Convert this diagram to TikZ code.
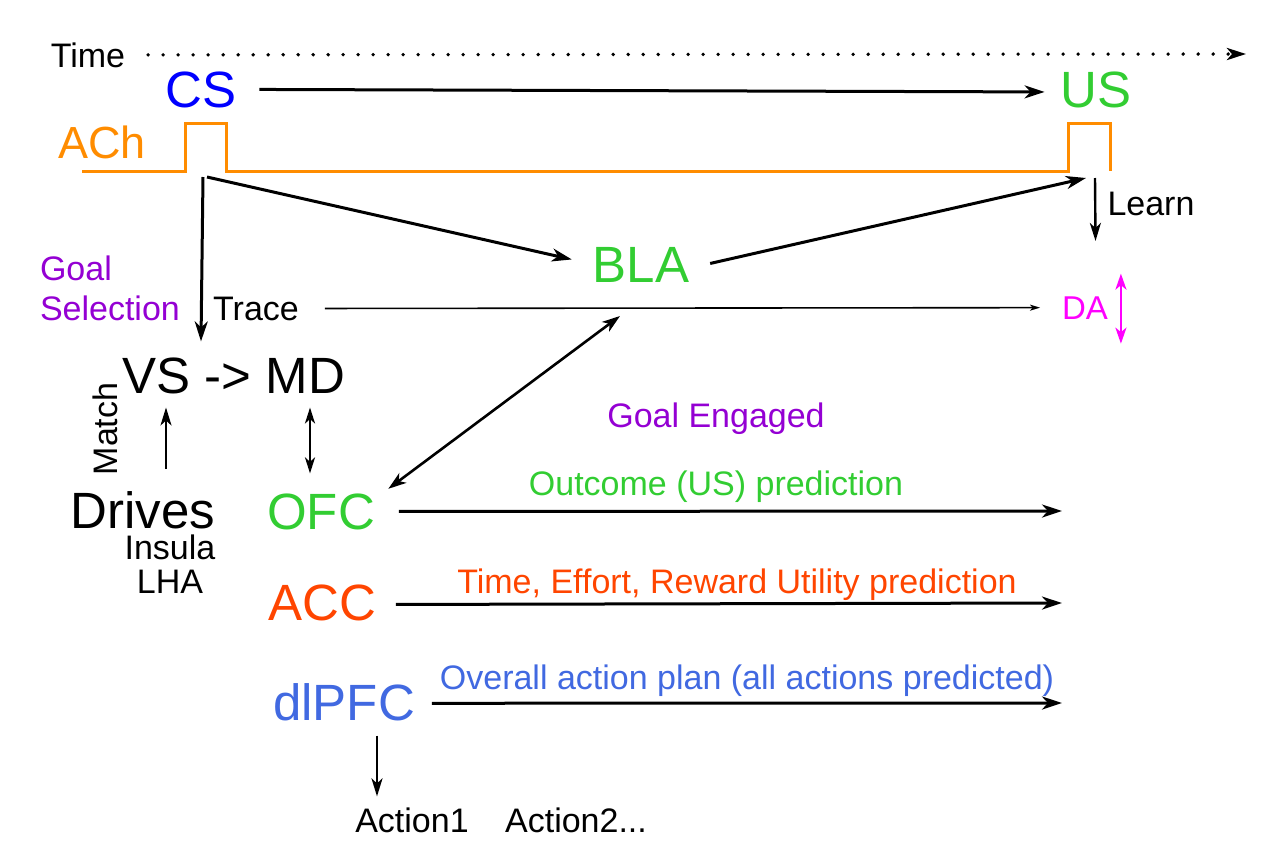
\documentclass[tikz,border=0pt]{standalone}
\usepackage{fontspec}
\setmainfont{Liberation Sans}
\usetikzlibrary{arrows.meta,calc}
\definecolor{csblue}{RGB}{0,0,255}
\definecolor{lgreen}{RGB}{50,205,50}
\definecolor{achorange}{RGB}{255,140,0}
\definecolor{gpurple}{RGB}{148,0,211}
\definecolor{accred}{RGB}{255,69,0}
\definecolor{pfcblue}{RGB}{65,105,225}
\definecolor{damag}{RGB}{255,0,255}
\begin{document}
\begin{tikzpicture}[x=1pt,y=-1pt,
  lbl/.style={inner sep=0pt, outer sep=0pt, anchor=base, font=\fontsize{34}{40}\selectfont},
  big/.style={inner sep=0pt, outer sep=0pt, anchor=base, font=\fontsize{51}{60}\selectfont},
  arr/.style={line width=3pt, -{Stealth[length=20pt,width=13pt,inset=6pt]}},
  darr/.style={line width=2.6pt, {Stealth[length=18pt,width=12pt,inset=5pt]}-{Stealth[length=18pt,width=12pt,inset=5pt]}},
  sarr/.style={line width=2.4pt, -{Stealth[length=18pt,width=11pt,inset=5pt]}},
  sdarr/.style={line width=2.4pt, {Stealth[length=16pt,width=10pt,inset=4.5pt]}-{Stealth[length=16pt,width=10pt,inset=4.5pt]}},
  thinarr/.style={line width=1.6pt, -{Stealth[length=10pt,width=6pt,inset=2.5pt]}},
  daarr/.style={line width=2.4pt, draw=damag, {Stealth[length=16pt,width=11pt,inset=4.5pt]}-{Stealth[length=16pt,width=11pt,inset=4.5pt]}},
  dotline/.style={line width=3.8pt, line cap=round, dash pattern=on 0pt off 15pt, -{Stealth[length=19pt,width=12pt,inset=5pt]}},
  achline/.style={line width=3pt, draw=achorange, line join=miter}
]
\useasboundingbox (0,0) rectangle (1280,857);

% text nodes
\node[lbl] (time) at (88,67) {Time};
\node[big, text=csblue] (cs) at (201,107) {CS};
\node[big, text=lgreen] (us) at (1096,107) {US};
\node[lbl, font=\fontsize{45}{52}\selectfont, text=achorange] (ach) at (102,158) {ACh};
\node[lbl] (learn) at (1151,215) {Learn};
\node[lbl, font=\fontsize{33}{40}\selectfont, text=damag] (da) at (1085,319) {DA};
\node[big, text=lgreen] (bla) at (641,282) {BLA};
\node[lbl, anchor=base west, align=left, text=gpurple] (goalsel) at (40,320) {Goal\\Selection};
\node[lbl] (trace) at (256,320) {Trace};
\node[big] (vsmd) at (234,393) {VS -> MD};
\node[lbl, rotate=90] (match) at (117,429) {Match};
\node[big] (drives) at (143,528) {Drives};
\node[lbl] (insula) at (170,559) {Insula};
\node[lbl] (lha) at (170,593) {LHA};
\node[big, text=lgreen] (ofc) at (321,529) {OFC};
\node[lbl, text=gpurple] (engaged) at (716,427) {Goal Engaged};
\node[lbl, text=lgreen] (outcome) at (716,495) {Outcome (US) prediction};
\node[big, text=accred] (acc) at (322,620) {ACC};
\node[lbl, text=accred] (teru) at (737,593) {Time, Effort, Reward Utility prediction};
\node[big, text=pfcblue] (dlpfc) at (344,720) {dlPFC};
\node[lbl, text=pfcblue] (plan) at (747,689) {Overall action plan (all actions predicted)};
\node[lbl] (a1) at (412,832) {Action1};
\node[lbl] (a2) at (576,832) {Action2...};

% coordinates for free ends
\coordinate (timeend) at (1246,54);
\coordinate (csp) at (204,177);
\coordinate (usp) at (1092,178);
\coordinate (ofcend) at (1062,511);
\coordinate (accend) at (1062,603);
\coordinate (pfcend) at (1062,703);

% time line
\draw[dotline] ([xshift=23pt]time.east) -- (timeend);

% ACh trace
\draw[achline] (82,171) -- (185,171) -- (185,123) -- (226,123) -- (226,171) -- (1068,171) -- (1068,123) -- (1110,123) -- (1110,171);

% connectors
\draw[arr] ([xshift=23pt]cs.east) -- ([xshift=-16pt,yshift=-2.5pt]us.west);
\draw[arr] ([xshift=-1pt]csp) -- ([xshift=-33pt,yshift=16pt]vsmd.north);
\draw[arr] ([xshift=3pt]csp) -- ([xshift=-21pt,yshift=5pt]bla.west);
\draw[arr] ([xshift=21pt,yshift=1pt]bla.east) -- ([xshift=-6pt]usp);
\draw[sarr] ([xshift=3pt]usp) -- ([xshift=-12pt,yshift=-37.5pt]learn.west);
\draw[thinarr] ([xshift=26pt]trace.east) -- ([xshift=-22pt]da.west);
\draw[daarr] ([xshift=13pt,yshift=34pt]da.east) -- ([xshift=13pt,yshift=-36pt]da.east);
\draw[darr] ([xshift=-21pt,yshift=-34pt]bla.south) -- ([xshift=13.5pt,yshift=4.6pt]ofc.north east);
\draw[sarr] ([xshift=23pt,yshift=22pt]drives.north) -- ([xshift=-68pt,yshift=-14pt]vsmd.south);
\draw[sdarr] ([xshift=76pt,yshift=-14pt]vsmd.south) -- ([xshift=-11pt,yshift=20pt]ofc.north);
\draw[arr] ([xshift=24pt]ofc.east) -- (ofcend);
\draw[arr] ([xshift=20pt,yshift=-2pt]acc.east) -- (accend);
\draw[arr] ([xshift=17pt,yshift=-1.5pt]dlpfc.east) -- (pfcend);
\draw[sarr] ([xshift=33pt,yshift=-15pt]dlpfc.south) -- ([xshift=-35pt,yshift=11pt]a1.north);
\end{tikzpicture}
\end{document}
